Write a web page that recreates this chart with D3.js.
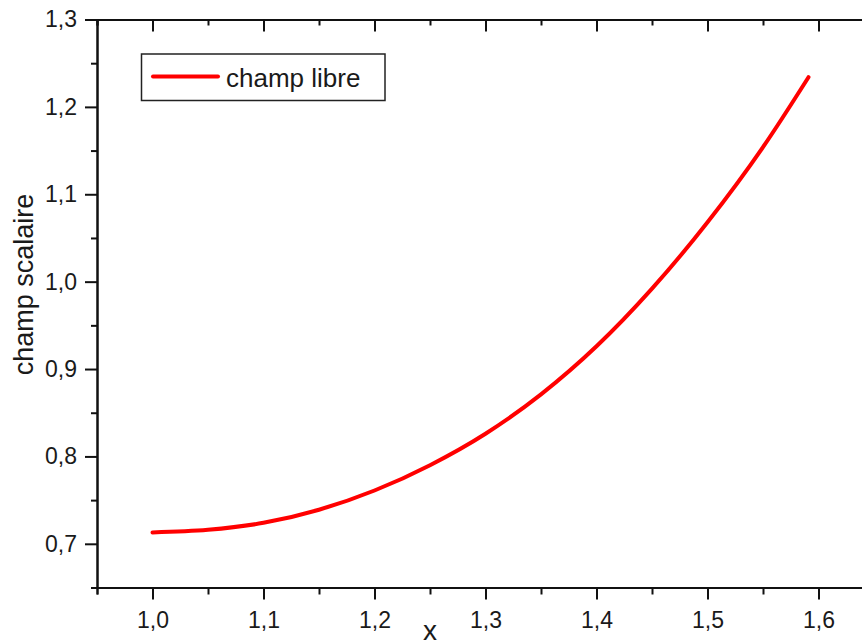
<!DOCTYPE html>
<html>
<head>
<meta charset="utf-8">
<script src="https://cdn.jsdelivr.net/npm/d3@7"></script>
<style>
  body { margin: 0; background: #fff; }
  text { font-family: Arial, "Liberation Sans", sans-serif; fill: #1a1a1a; }
</style>
</head>
<body>
<div id="chart"></div>
<script>
var xValues = [1.00, 1.05, 1.10, 1.15, 1.20, 1.25, 1.30, 1.35, 1.40, 1.45, 1.50, 1.55, 1.591];
var champLibre = [0.713, 0.716, 0.724, 0.739, 0.761, 0.790, 0.826, 0.871, 0.926, 0.992, 1.068, 1.154, 1.234];
var xTicks = [1.0, 1.1, 1.2, 1.3, 1.4, 1.5, 1.6];
var xMinorTicks = [0.95, 1.05, 1.15, 1.25, 1.35, 1.45, 1.55, 1.65];
var yTicks = [0.7, 0.8, 0.9, 1.0, 1.1, 1.2, 1.3];
var yMinorTicks = [0.65, 0.75, 0.85, 0.95, 1.05, 1.15, 1.25];
var seriesName = "champ libre";
var xTitle = "x";
var yTitle = "champ scalaire";

var width = 862, height = 640;
var margin = {top: 19.5, right: -12, bottom: 52.5, left: 97};

var svg = d3.select("#chart").append("svg")
    .attr("width", width)
    .attr("height", height);

var x = d3.scaleLinear().domain([0.95, 1.65]).range([margin.left, width - margin.right]);
var y = d3.scaleLinear().domain([0.65, 1.3]).range([height - margin.bottom, margin.top]);

var comma = d3.formatLocale({decimal: ",", thousands: ".", grouping: [3], currency: ["", ""]}).format(".1f");

var styleAxis = function(g) {
    g.selectAll("path").attr("stroke", "#111").attr("stroke-width", 2);
    g.selectAll("line").attr("stroke", "#111").attr("stroke-width", 2);
    g.selectAll("text").style("font-size", "23px").attr("fill", "#1a1a1a");
}

// minor ticks first, majors on top
svg.append("g")
    .attr("transform", "translate(0," + y.range()[0] + ")")
    .call(d3.axisBottom(x).tickValues(xMinorTicks).tickSize(7).tickFormat(""))
    .call(styleAxis);
svg.append("g")
    .attr("transform", "translate(0," + y.range()[0] + ")")
    .call(d3.axisBottom(x).tickValues(xTicks).tickSizeInner(12).tickSizeOuter(0).tickPadding(8).tickFormat(comma))
    .call(styleAxis)
    .selectAll("text").attr("dy", "0.9em");

svg.append("g")
    .attr("transform", "translate(0," + y.range()[1] + ")")
    .call(d3.axisTop(x).tickValues(xMinorTicks).tickSize(-6).tickFormat(""))
    .call(styleAxis);
svg.append("g")
    .attr("transform", "translate(0," + y.range()[1] + ")")
    .call(d3.axisTop(x).tickValues(xTicks).tickSizeInner(-12).tickSizeOuter(0).tickFormat(""))
    .call(styleAxis);

svg.append("g")
    .attr("transform", "translate(" + x.range()[0] + ",0)")
    .call(d3.axisLeft(y).tickValues(yMinorTicks).tickSize(6).tickFormat(""))
    .call(styleAxis);
svg.append("g")
    .attr("transform", "translate(" + x.range()[0] + ",0)")
    .call(d3.axisLeft(y).tickValues(yTicks).tickSizeInner(12).tickSizeOuter(0).tickPadding(8).tickFormat(comma))
    .call(styleAxis);

svg.append("g")
    .attr("transform", "translate(" + x.range()[1] + ",0)")
    .call(d3.axisRight(y).tickValues(yMinorTicks).tickSize(-6).tickFormat(""))
    .call(styleAxis);
svg.append("g")
    .attr("transform", "translate(" + x.range()[1] + ",0)")
    .call(d3.axisRight(y).tickValues(yTicks).tickSizeInner(-12).tickSizeOuter(0).tickFormat(""))
    .call(styleAxis);

// axis titles
svg.append("text")
    .attr("x", 430)
    .attr("y", 640)
    .style("text-anchor", "middle")
    .style("font-size", "28px")
    .text(xTitle);

svg.append("text")
    .attr("transform", "rotate(-90)")
    .attr("x", -284.5)
    .attr("y", 33)
    .style("text-anchor", "middle")
    .style("font-size", "27px")
    .text(yTitle);

// curve
var line = d3.line()
    .x(function(d, i) { return x(xValues[i]); })
    .y(function(d) { return y(d); })
    .curve(d3.curveMonotoneX);

svg.append("path")
    .datum(champLibre)
    .attr("d", line)
    .attr("fill", "none")
    .attr("stroke", "#f00")
    .attr("stroke-width", 4)
    .attr("stroke-linecap", "round");

// legend
var legend = svg.append("g");
legend.append("rect")
    .attr("x", 141.5)
    .attr("y", 54)
    .attr("width", 243.5)
    .attr("height", 46.5)
    .attr("fill", "#fff")
    .attr("stroke", "#222")
    .attr("stroke-width", 1.5);
legend.append("line")
    .attr("x1", 153).attr("x2", 218)
    .attr("y1", 76.5).attr("y2", 76.5)
    .attr("stroke", "#f00")
    .attr("stroke-width", 4)
    .attr("stroke-linecap", "round");
legend.append("text")
    .attr("x", 226)
    .attr("y", 87)
    .style("font-size", "26px")
    .text(seriesName);
</script>
</body>
</html>
